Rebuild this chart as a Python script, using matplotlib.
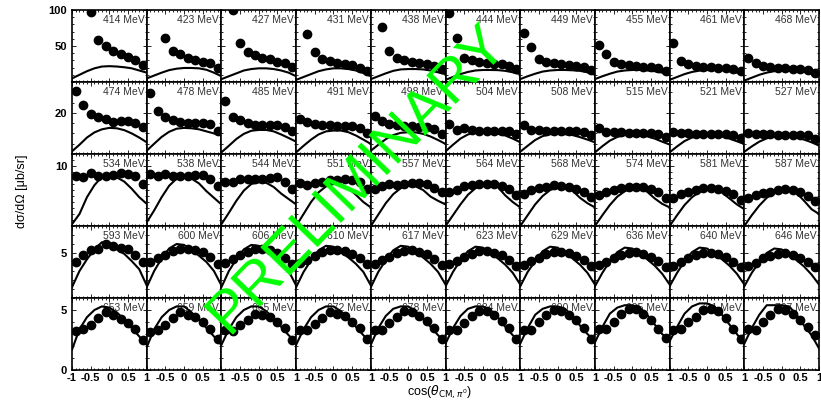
import matplotlib
matplotlib.use("Agg")
import matplotlib.pyplot as plt
from matplotlib.ticker import MultipleLocator, FixedLocator
import numpy as np

plt.rcParams['font.family'] = ['Liberation Sans', 'DejaVu Sans']

# bin centres of the data points and grid of the model curve
x_pts = [-0.9, -0.7, -0.5, -0.3, -0.1, 0.1, 0.3, 0.5, 0.7, 0.9]
x_curve = [-1.0, -0.8, -0.6, -0.4, -0.2, 0.0, 0.2, 0.4, 0.6, 0.8, 1.0]

energies = [
    [414, 423, 427, 431, 438, 444, 449, 455, 461, 468],
    [474, 478, 485, 491, 498, 504, 508, 515, 521, 527],
    [534, 538, 544, 551, 557, 564, 568, 574, 581, 587],
    [593, 600, 606, 610, 617, 623, 629, 636, 640, 646],
    [653, 659, 665, 672, 678, 684, 690, 695, 701, 707],
]

nan = np.nan
# measured points, one list per panel (nan = off scale)
data_row1 = [
    [nan, nan, 97.6, 59, 50.5, 43, 39, 35, 30.5, 23.6],
    [nan, nan, 60.6, 43.5, 38.4, 33.8, 30.6, 27.8, 26, 20],
    [nan, 100, 53.7, 42, 37.5, 34, 31.5, 28, 26, 21],
    [nan, 66, 42, 32, 29, 27, 25.5, 23, 20, 15],
    [nan, 76, 43, 34, 30.5, 28, 26, 24.5, 22, 17.6],
    [96, 61.6, 34, 30.5, 28, 27, 25.5, 24.5, 22.7, 18.5],
    [68.5, 48, 31.5, 28, 26, 24.5, 23.6, 22.7, 21, 16.7],
    [52, 38.4, 28, 24.5, 23, 22, 21, 20.4, 19, 15],
    [54.6, 29, 25, 22.7, 21.3, 20.4, 20, 19, 18, 14.8],
    [34, 26, 21.8, 20.4, 19.4, 19, 18.5, 18, 17, 13],
]
data_row2 = [
    [30.6, 24, 19.6, 18, 16.8, 15.8, 16, 16, 15, 13],
    [29.7, 20.7, 18, 16.6, 15.6, 15.3, 15.2, 15, 14.7, 11.4],
    [25.7, 18, 16.3, 15.2, 14.3, 14.2, 14.2, 13.9, 13, 11],
    [17, 15.5, 14.7, 14.2, 13.9, 13.5, 13.4, 13.4, 12.7, 10.3],
    [18.4, 16, 14.5, 14, 13.6, 13.4, 13.2, 13, 12, 9.8],
    [14.7, 11.9, 12.6, 11.7, 11, 11, 11.4, 11.4, 11, 9.8],
    [13.9, 11.9, 11.7, 11.4, 11.4, 11, 11, 11, 10.6, 9.3],
    [12.7, 10.6, 10.9, 10.6, 10.3, 10.3, 10.3, 10.1, 9.8, 8.5],
    [10.6, 10.3, 10.1, 9.8, 9.8, 9.8, 9.8, 9.8, 9.3, 7.7],
    [10.3, 9.8, 9.5, 9.5, 9.3, 9.3, 9.3, 9.3, 9, 7.3],
]
data_row3 = [
    [8.4, 8.1, 8.8, 8.3, 8.4, 8.5, 8.9, 8.6, 8.3, 7.0],
    [8.6, 8.4, 8.6, 8.3, 8.3, 8.4, 8.5, 8.5, 7.8, 6.7],
    [7.4, 7.3, 7.9, 7.8, 7.8, 7.9, 8.0, 8.1, 7.4, 6.1],
    [7.1, 6.8, 7.1, 7.4, 7.6, 7.6, 7.8, 7.6, 7.3, 6.1],
    [6.1, 6.7, 7.0, 6.9, 7.0, 7.1, 7.1, 7.0, 6.3, 5.6],
    [5.6, 6.0, 6.6, 6.8, 7.0, 7.0, 7.0, 6.7, 6.1, 5.1],
    [5.3, 6.0, 6.3, 6.5, 6.8, 6.7, 6.5, 6.1, 5.6, 4.9],
    [5.2, 5.6, 6.0, 6.3, 6.5, 6.5, 6.5, 6.1, 5.6, 4.6],
    [4.7, 5.3, 5.6, 6.0, 6.3, 6.3, 6.1, 5.9, 5.3, 4.3],
    [4.7, 5.2, 5.5, 5.7, 6.0, 6.1, 6.0, 5.6, 5.0, 4.1],
]
data_row4 = [
    [4.0, 4.8, 5.3, 5.5, 6.0, 5.8, 5.6, 5.5, 4.8, 4.0],
    [4.0, 4.4, 4.8, 5.2, 5.4, 5.5, 5.3, 5.1, 4.6, 3.8],
    [3.9, 4.3, 4.8, 5.1, 5.4, 5.4, 5.3, 5.0, 4.5, 3.8],
    [3.9, 4.2, 4.7, 5.1, 5.3, 5.3, 5.2, 4.9, 4.4, 3.8],
    [3.8, 4.2, 4.6, 5.0, 5.2, 5.3, 5.1, 4.9, 4.3, 3.7],
    [3.8, 4.1, 4.6, 4.9, 5.2, 5.2, 5.0, 4.8, 4.2, 3.6],
    [3.7, 4.1, 4.5, 4.9, 5.1, 5.1, 5.0, 4.7, 4.2, 3.6],
    [3.7, 4.0, 4.5, 4.8, 5.0, 5.1, 4.9, 4.6, 4.1, 3.5],
    [3.6, 4.0, 4.4, 4.8, 5.0, 5.0, 4.9, 4.6, 4.0, 3.5],
    [3.6, 3.9, 4.4, 4.7, 4.9, 5.0, 4.8, 4.5, 4.0, 3.4],
]
data_row5 = [
    [3.25, 3.4, 3.75, 4.3, 4.8, 4.6, 4.25, 3.95, 3.4, 2.5],
    [3.2, 3.3, 3.75, 4.3, 4.8, 4.6, 4.45, 4.0, 3.4, 2.6],
    [3.3, 3.25, 3.75, 4.2, 4.7, 4.6, 4.4, 4.0, 3.5, 2.5],
    [3.3, 3.3, 3.8, 4.3, 4.8, 4.7, 4.5, 4.0, 3.5, 2.6],
    [3.3, 3.3, 3.9, 4.4, 4.9, 4.8, 4.5, 4.1, 3.5, 2.6],
    [3.3, 3.3, 3.9, 4.5, 4.9, 4.9, 4.6, 4.1, 3.5, 2.6],
    [3.3, 3.3, 4.0, 4.6, 5.0, 4.95, 4.6, 4.2, 3.5, 2.6],
    [3.4, 3.4, 4.0, 4.7, 5.1, 5.1, 4.7, 4.2, 3.4, 2.7],
    [3.3, 3.4, 4.0, 4.4, 5.0, 5.05, 4.9, 4.3, 3.4, 2.6],
    [3.4, 3.3, 4.0, 4.6, 5.05, 5.0, 4.7, 4.2, 3.6, 2.9],
]

# model curves on x_curve
curve_row1 = [
    [5, 10, 15, 19, 21.5, 22, 21.5, 20.5, 19, 16, 13],
    [5, 9, 13, 16.5, 18.5, 19.5, 19.5, 19, 17, 13, 8],
    [4, 8, 12, 16, 18, 19, 19, 18, 16, 13, 8],
    [3, 7, 11, 15, 17.5, 19, 19, 18, 16, 12.5, 8],
    [4, 8, 12, 15.5, 17.5, 18, 18, 17.5, 16, 13.5, 11],
    [3, 7, 11, 14, 16, 16.7, 16.7, 16.5, 15.5, 13.5, 11],
    [4, 8, 11.5, 14.5, 16, 16.7, 16.7, 16.3, 15.5, 13.5, 11],
    [4, 8, 11.5, 14.5, 16, 16.7, 16.7, 16, 15, 13, 10],
    [3, 7, 11, 14, 15.8, 16.5, 16.7, 16.3, 15, 13, 10],
    [2, 6, 10, 13, 15, 15.7, 15.7, 15.3, 14, 12, 9],
]
curve_row2 = [
    [1.3, 4.5, 8, 10.5, 12, 12.7, 12.5, 11.6, 10, 8, 5.7],
    [1.6, 5, 8.3, 10.8, 12.3, 12.7, 12.5, 12, 11, 10, 9],
    [0.8, 4, 7.3, 9.8, 11.3, 11.7, 11.7, 11, 9.5, 7.8, 6],
    [0.8, 4, 7, 9.5, 11, 11.4, 11.4, 10.6, 9, 7, 4.9],
    [1.6, 4.5, 7.2, 9.2, 10.3, 10.6, 10.5, 9.8, 8.5, 6.8, 4.9],
    [1.3, 4.5, 7.5, 9.5, 10.4, 10.6, 10.3, 9.8, 9, 7.5, 5.7],
    [1.1, 4, 6.8, 8.7, 9.6, 9.8, 9.6, 9.2, 8.2, 7, 5.7],
    [0.8, 3.8, 6.5, 8.3, 9.2, 9.3, 9.2, 8.6, 7.5, 6, 4.6],
    [0.8, 3.7, 6.3, 8, 8.8, 9, 9, 8.6, 7.5, 6.2, 4.9],
    [1.1, 3.7, 6, 7.6, 8.4, 8.6, 8.5, 8, 7, 5.7, 4.1],
]
curve_row3 = [
    [0.3, 2.0, 4.8, 6.8, 8.2, 8.4, 8.1, 7.4, 6.2, 4.8, 3.7],
    [0.6, 2.6, 4.8, 6.7, 7.9, 8.1, 7.9, 7.1, 5.8, 4.7, 3.6],
    [0.3, 2.2, 4.2, 5.9, 7.0, 7.3, 7.2, 6.5, 5.4, 4.5, 3.6],
    [0.0, 2.0, 4.0, 5.6, 6.6, 7.0, 6.9, 6.3, 5.2, 4.0, 3.1],
    [0.0, 1.9, 3.8, 5.3, 6.3, 6.7, 6.6, 6.0, 4.9, 4.2, 3.6],
    [0.0, 1.8, 3.6, 5.2, 6.3, 6.8, 7.0, 6.5, 5.1, 4.0, 3.1],
    [0.0, 1.8, 3.6, 5.0, 6.0, 6.4, 6.5, 5.9, 4.7, 3.8, 3.1],
    [0.0, 1.8, 3.5, 4.9, 5.8, 6.3, 6.3, 5.7, 4.6, 3.7, 3.1],
    [0.0, 1.8, 3.5, 4.8, 5.7, 6.2, 6.3, 5.6, 4.6, 3.6, 2.8],
    [0.0, 1.8, 3.4, 4.7, 5.5, 6.0, 6.0, 5.5, 4.2, 2.8, 2.0],
]
curve_row4 = [
    [1.2, 3.0, 4.3, 5.4, 6.2, 6.0, 5.4, 4.9, 4.1, 3.2, 1.4],
    [1.2, 3.0, 4.4, 5.5, 6.0, 5.9, 5.3, 4.7, 4.0, 3.0, 1.4],
    [1.2, 3.0, 4.3, 5.4, 5.9, 5.8, 5.2, 4.6, 3.9, 3.0, 1.4],
    [1.2, 2.9, 4.2, 5.3, 5.8, 5.7, 5.1, 4.5, 3.8, 2.9, 1.4],
    [1.2, 2.9, 4.2, 5.3, 5.8, 5.7, 5.1, 4.5, 3.8, 2.9, 1.5],
    [1.3, 2.9, 4.2, 5.2, 5.7, 5.6, 5.0, 4.4, 3.7, 2.8, 1.5],
    [1.3, 2.9, 4.1, 5.2, 5.7, 5.6, 5.0, 4.4, 3.7, 2.8, 1.5],
    [1.3, 2.8, 4.1, 5.1, 5.6, 5.5, 4.9, 4.3, 3.6, 2.7, 1.5],
    [1.3, 2.8, 4.1, 5.1, 5.6, 5.5, 4.9, 4.3, 3.6, 2.7, 1.5],
    [1.3, 2.8, 4.0, 5.0, 5.5, 5.4, 4.8, 4.2, 3.5, 2.6, 1.5],
]
curve_row5 = [
    [1.7, 3.4, 4.4, 5.0, 5.3, 5.2, 4.8, 4.2, 3.5, 2.8, 2.1],
    [1.9, 3.4, 4.4, 5.0, 5.3, 5.3, 4.8, 4.2, 3.5, 2.8, 2.1],
    [2.1, 3.4, 4.4, 5.0, 5.3, 5.3, 4.9, 4.3, 3.6, 2.9, 2.3],
    [2.1, 3.4, 4.4, 5.0, 5.3, 5.3, 4.9, 4.3, 3.6, 2.9, 2.3],
    [2.1, 3.5, 4.5, 5.1, 5.3, 5.3, 4.9, 4.3, 3.6, 2.9, 2.3],
    [2.2, 3.5, 4.5, 5.1, 5.3, 5.3, 5.0, 4.4, 3.6, 2.9, 2.3],
    [2.2, 3.5, 4.6, 5.1, 5.3, 5.3, 5.1, 4.5, 3.7, 3.0, 2.4],
    [2.3, 3.6, 4.7, 5.2, 5.4, 5.4, 5.2, 4.6, 3.8, 3.0, 2.4],
    [2.4, 3.6, 4.7, 5.3, 5.55, 5.55, 5.3, 4.6, 3.8, 3.0, 2.2],
    [2.2, 3.5, 4.6, 5.4, 5.4, 5.4, 5.3, 4.6, 3.7, 2.9, 1.8],
]

data_rows = [data_row1, data_row2, data_row3, data_row4, data_row5]
curve_rows = [curve_row1, curve_row2, curve_row3, curve_row4, curve_row5]

# per-row y axis: (ymax, labelled ticks, minor step)
row_ymax = [100, 35, 12, 8, 6]
row_yticks = [[50, 100], [20], [10], [5], [0, 5]]
row_yminor = [10, 5, 1, 1, 1]

fig, axes = plt.subplots(5, 10, figsize=(8.21, 4.07), dpi=100)
fig.subplots_adjust(left=0.0877, right=0.9976, top=0.9754, bottom=0.0909,
                    hspace=0, wspace=0)

for r in range(5):
    for c in range(10):
        ax = axes[r, c]
        ax.plot(x_curve, curve_rows[r][c], color='black', lw=1.5,
                clip_on=True, zorder=2)
        ax.plot(x_pts, data_rows[r][c], 'o', color='black', ms=6,
                clip_on=True, zorder=3)
        ax.set_xlim(-1, 1)
        ax.set_ylim(0, row_ymax[r])
        ax.text(0.97, 0.93, f'{energies[r][c]} MeV', transform=ax.transAxes,
                ha='right', va='top', fontsize=7.5, color='#333333', zorder=1)
        for s in ax.spines.values():
            s.set_linewidth(1.2)
        ax.xaxis.set_major_locator(FixedLocator([-1, -0.5, 0, 0.5, 1]))
        ax.xaxis.set_minor_locator(MultipleLocator(0.1))
        ax.yaxis.set_major_locator(FixedLocator(row_yticks[r]))
        ax.yaxis.set_minor_locator(MultipleLocator(row_yminor[r]))
        ax.tick_params(which='both', direction='in', top=True, right=True,
                       width=0.6)
        ax.tick_params(which='major', length=3)
        ax.tick_params(which='minor', length=1.5)
        if c != 0:
            ax.set_yticklabels([])
        else:
            ax.set_yticklabels([str(t) for t in row_yticks[r]],
                               fontsize=8, fontweight='bold')
        if r == 4:
            labels = ['-1' if c == 0 else '', '-0.5', '0', '0.5', '1']
            ax.set_xticklabels(labels, fontsize=8, fontweight='bold')
            ax.tick_params(axis='x', pad=2)
        else:
            ax.set_xticklabels([])

fig.text(0.027, 0.53, 'dσ/dΩ [μb/sr]', rotation=90, ha='center', va='center',
         fontsize=9)
fig.text(0.535, 0.035, r'cos($\theta_{\mathrm{CM},\pi^0}$)', ha='center',
         va='center', fontsize=9)

fig.text(0.435, 0.56, 'PRELIMINARY', rotation=46, ha='center', va='center',
         fontsize=43, color='#00ff00', zorder=10)

fig.savefig('out.png', dpi=100)
